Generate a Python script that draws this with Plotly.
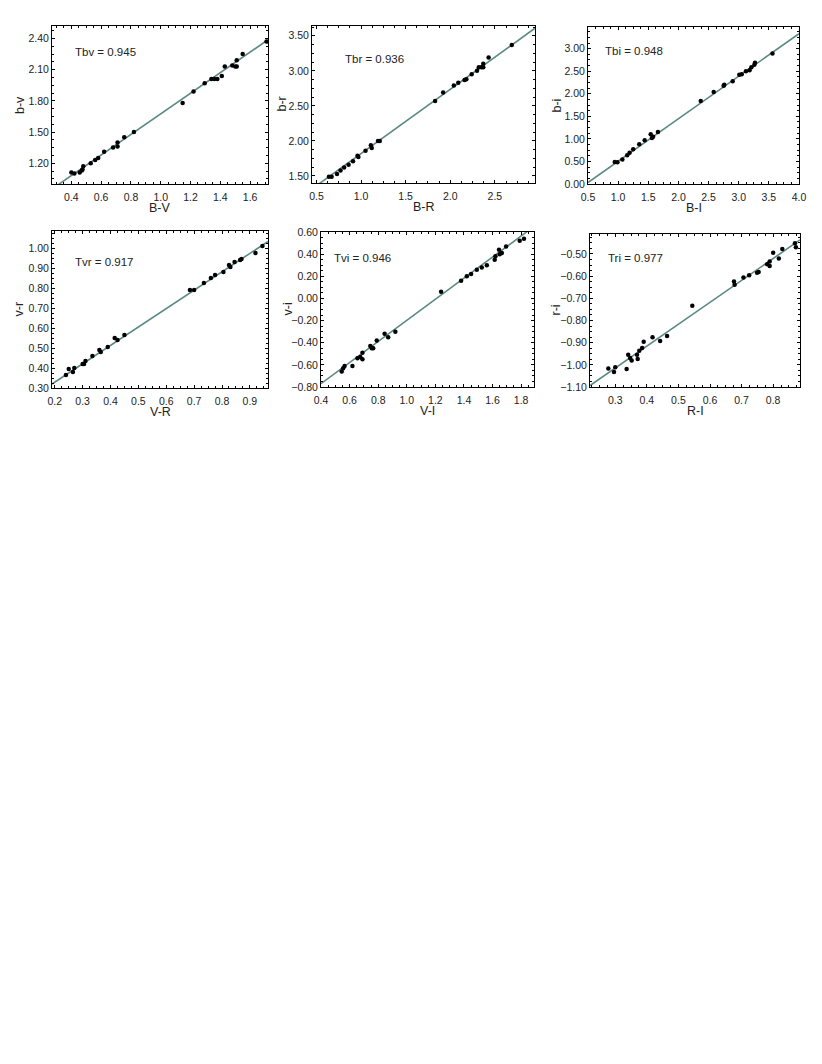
import plotly.graph_objects as go

# ---- data ----
bv_x = [0.40, 0.42, 0.456, 0.47, 0.48, 0.475, 0.53, 0.56, 0.58, 0.62, 0.68, 0.71, 0.71, 0.755, 0.82,
        1.147, 1.22, 1.295, 1.34, 1.36, 1.38, 1.41, 1.43, 1.48, 1.50, 1.51, 1.51, 1.55, 1.71]
bv_y = [1.11, 1.10, 1.11, 1.13, 1.17, 1.14, 1.20, 1.23, 1.25, 1.31, 1.35, 1.36, 1.40, 1.45, 1.50,
        1.78, 1.89, 1.97, 2.01, 2.01, 2.01, 2.04, 2.13, 2.14, 2.13, 2.13, 2.19, 2.25, 2.37]

br_x = [0.64, 0.67, 0.73, 0.77, 0.81, 0.86, 0.91, 0.96, 0.97, 1.05, 1.11, 1.12, 1.19, 1.21,
        1.83, 1.92, 2.04, 2.09, 2.16, 2.18, 2.24, 2.30, 2.32, 2.35, 2.37, 2.37, 2.43, 2.69]
br_y = [1.49, 1.49, 1.53, 1.58, 1.62, 1.66, 1.71, 1.79, 1.77, 1.86, 1.94, 1.90, 2.00, 2.00,
        2.57, 2.69, 2.79, 2.83, 2.87, 2.88, 2.95, 3.00, 3.05, 3.05, 3.10, 3.05, 3.19, 3.37]

bi_x = [0.944, 0.988, 1.07, 1.15, 1.19, 1.25, 1.35, 1.44, 1.54, 1.56, 1.58, 1.66,
        2.37, 2.585, 2.75, 2.76, 2.90, 3.01, 3.05, 3.12, 3.18, 3.21, 3.26, 3.27, 3.56]
bi_y = [0.49, 0.48, 0.545, 0.64, 0.69, 0.77, 0.88, 0.97, 1.105, 1.02, 1.05, 1.15,
        1.84, 2.04, 2.18, 2.20, 2.28, 2.42, 2.43, 2.50, 2.52, 2.59, 2.645, 2.69, 2.89]

vr_x = [0.24, 0.25, 0.265, 0.27, 0.30, 0.305, 0.31, 0.335, 0.36, 0.365, 0.39, 0.415, 0.425, 0.45,
        0.685, 0.70, 0.735, 0.76, 0.775, 0.805, 0.825, 0.83, 0.845, 0.865, 0.87, 0.92, 0.945]
vr_y = [0.365, 0.395, 0.38, 0.40, 0.42, 0.42, 0.435, 0.46, 0.49, 0.48, 0.505, 0.55, 0.54, 0.565,
        0.79, 0.79, 0.825, 0.85, 0.865, 0.88, 0.915, 0.905, 0.93, 0.94, 0.945, 0.975, 1.01]

vi_x = [0.545, 0.555, 0.565, 0.62, 0.655, 0.675, 0.69, 0.69, 0.745, 0.755, 0.765, 0.79, 0.845, 0.87, 0.92,
        1.24, 1.38, 1.42, 1.45, 1.49, 1.525, 1.56, 1.615, 1.62, 1.645, 1.65, 1.665, 1.695, 1.79, 1.82]
vi_y = [-0.66, -0.63, -0.61, -0.61, -0.54, -0.53, -0.49, -0.55, -0.43, -0.45, -0.45, -0.38, -0.32, -0.35, -0.30,
        0.06, 0.16, 0.20, 0.22, 0.26, 0.28, 0.30, 0.35, 0.38, 0.44, 0.40, 0.41, 0.47, 0.52, 0.54]

ri_x = [0.278, 0.296, 0.30, 0.336, 0.341, 0.347, 0.352, 0.369, 0.371, 0.376, 0.385, 0.39, 0.418, 0.442, 0.464,
        0.544, 0.676, 0.678, 0.706, 0.724, 0.749, 0.754, 0.781, 0.789, 0.789, 0.80, 0.818, 0.829, 0.869, 0.872]
ri_y = [-1.017, -1.032, -1.011, -1.019, -0.954, -0.969, -0.98, -0.954, -0.974, -0.936, -0.924, -0.896, -0.876, -0.893, -0.87,
        -0.734, -0.624, -0.639, -0.606, -0.596, -0.585, -0.581, -0.546, -0.554, -0.534, -0.494, -0.52, -0.478, -0.452, -0.47]

# regression lines: intercept, slope
fit_a = [0.685, 0.903, -0.44, 0.145, -1.151, -1.311]
fit_b = [0.99, 0.917, 0.943, 0.92, 0.953, 0.988]

labels_t = ["Tbv = 0.945", "Tbr = 0.936", "Tbi = 0.948", "Tvr = 0.917", "Tvi = 0.946", "Tri = 0.977"]
x_titles = ["B-V", "B-R", "B-I", "V-R", "V-I", "R-I"]
y_titles = ["b-v", "b-r", "b-i", "v-r", "v-i", "r-i"]

xs = [bv_x, br_x, bi_x, vr_x, vi_x, ri_x]
ys = [bv_y, br_y, bi_y, vr_y, vi_y, ri_y]

# ---- layout settings per panel ----
W, H = 822, 1064
OFF = 8  # page body margin
frames = [(52, 268, 26, 184), (312, 535, 26, 183), (588, 799, 27, 184),
          (52, 268, 231, 388), (321, 534, 232, 387), (590, 800, 234, 387)]
ytitle_gap = [32, 31, 32, 34, 34, 34]
xranges = [(0.27, 1.72), (0.45, 2.95), (0.5, 4.0), (0.19, 0.965), (0.4, 1.89), (0.22, 0.885)]
yranges = [(1.00, 2.52), (1.40, 3.64), (0.0, 3.48), (0.30, 1.085), (-0.80, 0.60), (-1.10, -0.41)]
xticks = [(0.4, 0.2), (0.5, 0.5), (0.5, 0.5), (0.2, 0.1), (0.4, 0.2), (0.3, 0.1)]
yticks = [(1.2, 0.3), (1.5, 0.5), (0.0, 0.5), (0.3, 0.1), (-0.8, 0.2), (-1.1, 0.1)]
ann_pos = [(0.097, 0.835), (0.138, 0.79), (0.073, 0.847), (0.096, 0.804), (0.053, 0.834), (0.075, 0.84)]

font_fam = "Liberation Sans, Arial, sans-serif"
title_font = dict(size=12.5, color="#222", family=font_fam)
fig = go.Figure()
layout = {}
for i in range(6):
    n = "" if i == 0 else str(i + 1)
    xa, ya = "x" + n, "y" + n
    l, r, t, b = [v - OFF for v in frames[i]]
    x0, x1 = xranges[i]
    fig.add_trace(go.Scatter(x=[x0, x1], y=[fit_a[i] + fit_b[i] * x0, fit_a[i] + fit_b[i] * x1],
                             mode="lines", line=dict(color="#5b8983", width=1.6),
                             xaxis=xa, yaxis=ya, showlegend=False, hoverinfo="skip"))
    fig.add_trace(go.Scatter(x=xs[i], y=ys[i], mode="markers",
                             marker=dict(color="black", size=4.5),
                             xaxis=xa, yaxis=ya, showlegend=False))
    common = dict(showline=True, linecolor="black", linewidth=1, mirror="allticks", automargin=False,
                  ticks="inside", ticklen=3, tickcolor="black", showgrid=False, zeroline=False,
                  tickfont=dict(size=10.5, color="#222", family=font_fam))
    layout["xaxis" + n] = dict(common, domain=[l / W, r / W], range=list(xranges[i]), anchor=ya,
                               tick0=xticks[i][0], dtick=xticks[i][1], tickformat=".1f", ticklabelstandoff=3,
                               minor=dict(ticks="inside", ticklen=2, tickcolor="black", dtick=xticks[i][1] / 4))
    layout["yaxis" + n] = dict(common, domain=[1 - b / H, 1 - t / H], range=list(yranges[i]), anchor=xa,
                               tick0=yticks[i][0], dtick=yticks[i][1], tickformat=".2f",
                               minor=dict(ticks="inside", ticklen=2, tickcolor="black", dtick=yticks[i][1] / 4))
    # axis titles placed by hand
    fig.add_annotation(text=x_titles[i], xref="paper", yref="paper",
                       x=(l + r) / 2 / W, y=1 - (b + 24) / H, xanchor="center", yanchor="middle",
                       showarrow=False, font=title_font)
    fig.add_annotation(text=y_titles[i], xref="paper", yref="paper", textangle=-90,
                       x=(l - ytitle_gap[i]) / W, y=1 - (t + b) / 2 / H, xanchor="center", yanchor="middle",
                       showarrow=False, font=title_font)
    fig.add_annotation(text=labels_t[i], xref=xa + " domain", yref=ya + " domain",
                       x=ann_pos[i][0], y=ann_pos[i][1], xanchor="left", yanchor="middle",
                       showarrow=False, font=dict(size=11.5, color="#222", family=font_fam))

fig.update_layout(**layout)
fig.update_layout(width=W, height=H, margin=dict(l=0, r=0, t=0, b=0),
                  plot_bgcolor="white", paper_bgcolor="white")
fig.write_html("out.html")
